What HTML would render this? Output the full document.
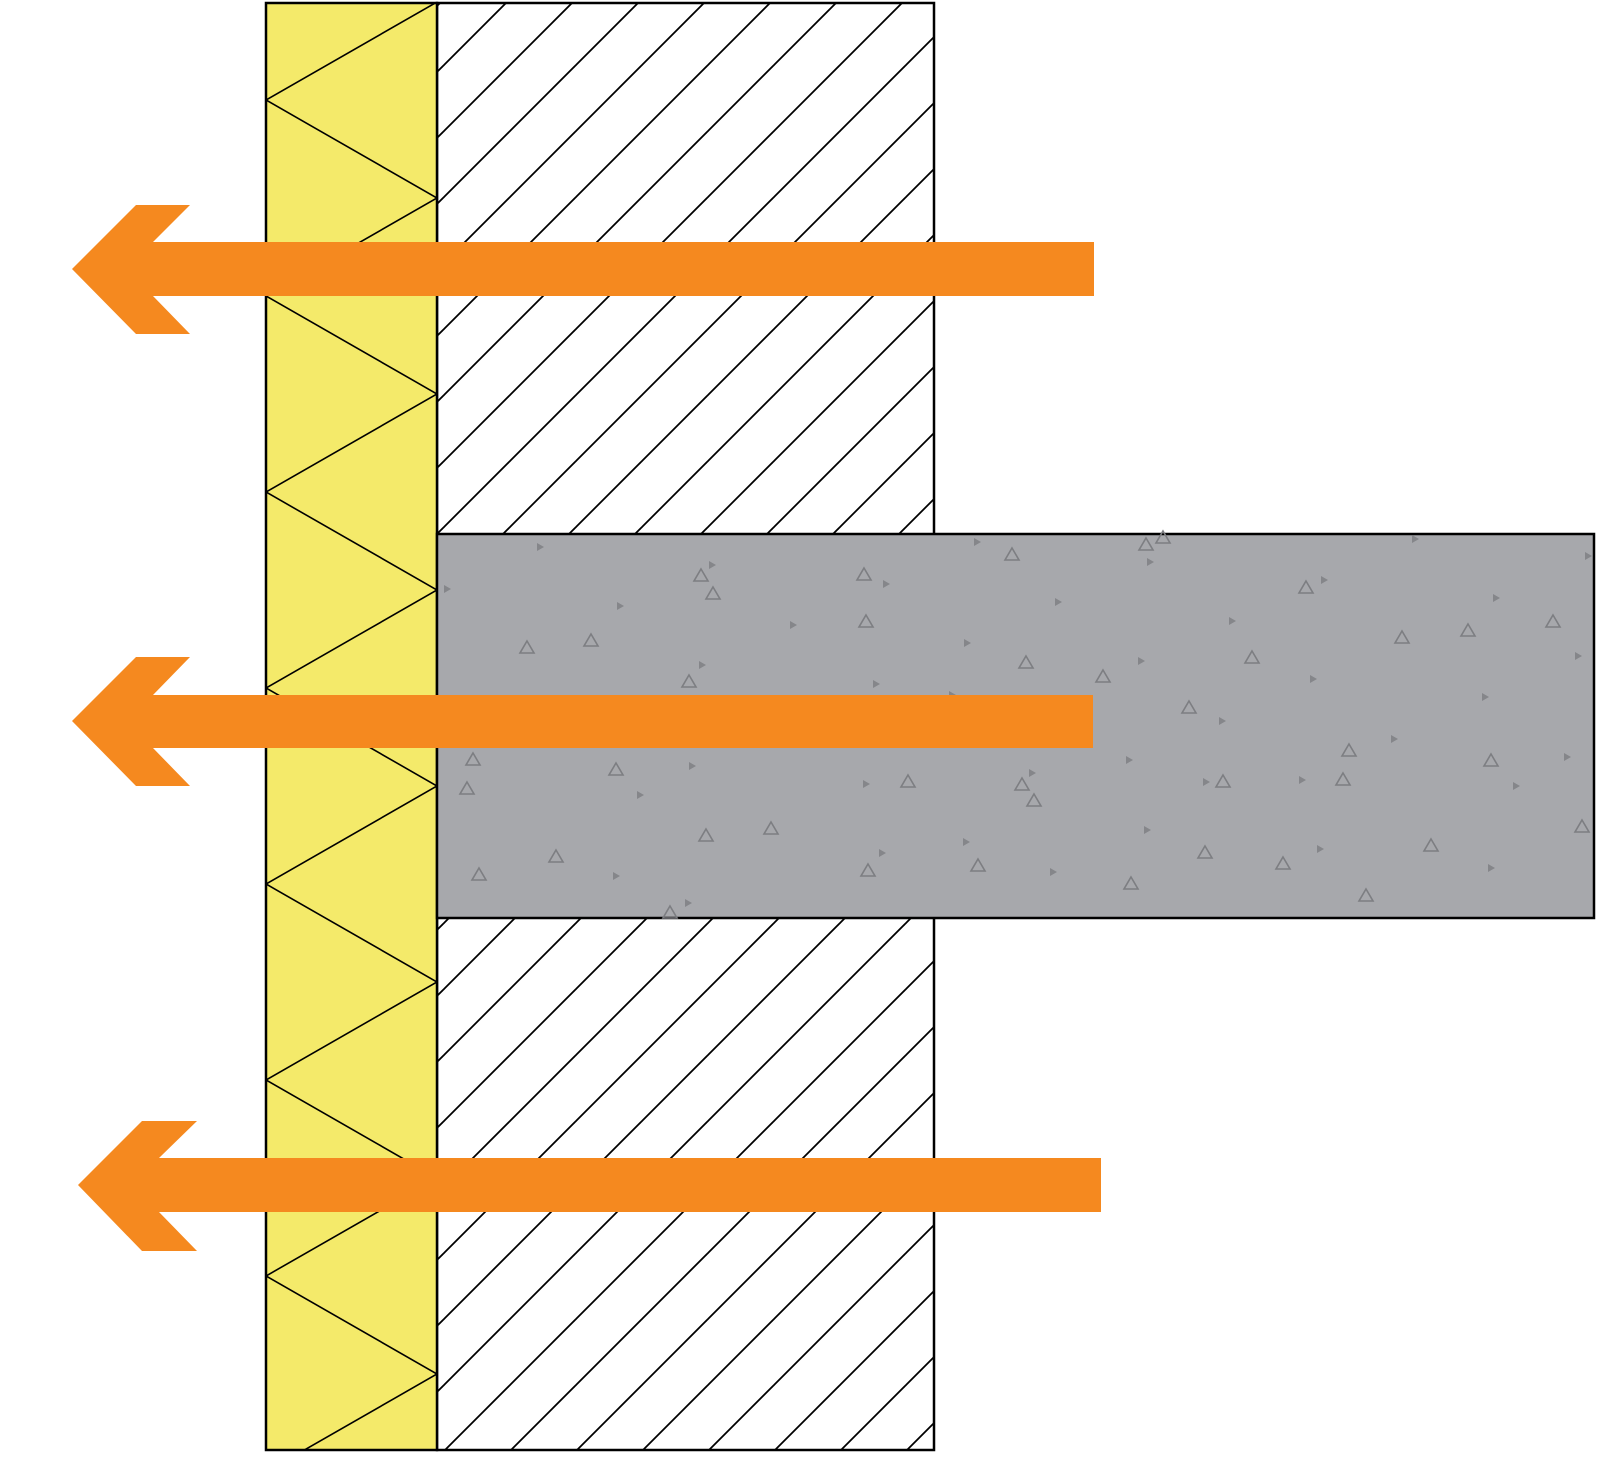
<!DOCTYPE html>
<html><head><meta charset="utf-8"><style>html,body{margin:0;padding:0;background:#fff}svg{display:block}</style></head>
<body>
<svg width="1616" height="1464" viewBox="0 0 1616 1464" xmlns="http://www.w3.org/2000/svg">
<defs>
<pattern id="h" patternUnits="userSpaceOnUse" x="47" y="0" width="66" height="66">
<line x1="0" y1="66" x2="66" y2="0" stroke="#000" stroke-width="1.8"/>
<line x1="-2" y1="2" x2="2" y2="-2" stroke="#000" stroke-width="1.8"/>
<line x1="64" y1="68" x2="68" y2="64" stroke="#000" stroke-width="1.8"/>
</pattern>
<clipPath id="yc"><rect x="266" y="3" width="171" height="1447"/></clipPath>
<g id="t"><path d="M0,-7 L7,5 L-7,5 Z" fill="none" stroke="#7d7e82" stroke-width="1.6"/></g>
<g id="s"><path d="M-3,-4 L4,0 L-3,4 Z" fill="#85868a"/></g>
</defs>
<!-- hatched block -->
<rect x="437" y="3" width="497" height="1447" fill="url(#h)" stroke="#000" stroke-width="2.5"/>
<!-- yellow insulation -->
<rect x="266" y="3" width="171" height="1447" fill="#f4ea6a"/>
<g clip-path="url(#yc)" stroke="#000" stroke-width="1.6" fill="none">
<polyline points="437,2 266,100 437,198 266,296 437,394 266,492 437,590 266,688 437,786 266,884 437,982 266,1080 437,1178 266,1276 437,1374 266,1472"/>
</g>
<rect x="266" y="3" width="171" height="1447" fill="none" stroke="#000" stroke-width="2.5"/>
<!-- concrete -->
<rect x="437" y="534" width="1157" height="384" fill="#a7a8ac" stroke="#000" stroke-width="2.5"/>
<g>
<use href="#s" x="540" y="547"/><use href="#t" x="701" y="576"/><use href="#s" x="712" y="565"/><use href="#t" x="713" y="594"/>
<use href="#s" x="447" y="589"/><use href="#t" x="591" y="641"/><use href="#s" x="620" y="606"/><use href="#t" x="527" y="648"/>
<use href="#t" x="864" y="575"/><use href="#s" x="886" y="584"/><use href="#t" x="866" y="622"/><use href="#s" x="793" y="625"/>
<use href="#s" x="977" y="542"/><use href="#t" x="1012" y="555"/><use href="#t" x="1146" y="545"/><use href="#t" x="1163" y="538"/>
<use href="#s" x="1150" y="562"/><use href="#s" x="1058" y="602"/><use href="#s" x="967" y="643"/><use href="#t" x="1026" y="663"/>
<use href="#t" x="1306" y="588"/><use href="#s" x="1324" y="580"/><use href="#s" x="1232" y="621"/><use href="#t" x="1252" y="658"/>
<use href="#s" x="1415" y="539"/><use href="#s" x="1588" y="556"/><use href="#s" x="1496" y="598"/><use href="#t" x="1468" y="631"/>
<use href="#t" x="1402" y="638"/><use href="#t" x="1553" y="622"/><use href="#s" x="1578" y="656"/><use href="#s" x="1313" y="679"/>
<use href="#s" x="702" y="665"/><use href="#t" x="689" y="682"/><use href="#s" x="876" y="684"/><use href="#s" x="952" y="695"/>
<use href="#t" x="1103" y="677"/><use href="#s" x="1141" y="661"/><use href="#t" x="1189" y="708"/><use href="#s" x="1222" y="721"/>
<use href="#s" x="1485" y="697"/><use href="#s" x="1394" y="739"/><use href="#t" x="1349" y="751"/><use href="#t" x="1491" y="761"/>
<use href="#s" x="1567" y="757"/><use href="#s" x="1516" y="786"/><use href="#t" x="1343" y="780"/><use href="#s" x="1302" y="780"/>
<use href="#t" x="1223" y="782"/><use href="#s" x="1206" y="782"/><use href="#s" x="1129" y="760"/><use href="#t" x="1022" y="785"/>
<use href="#s" x="1032" y="773"/><use href="#t" x="1034" y="801"/><use href="#t" x="908" y="782"/><use href="#s" x="866" y="784"/>
<use href="#t" x="473" y="760"/><use href="#t" x="467" y="789"/><use href="#t" x="616" y="770"/><use href="#s" x="640" y="795"/>
<use href="#s" x="692" y="766"/><use href="#t" x="771" y="829"/><use href="#t" x="706" y="836"/><use href="#t" x="556" y="857"/>
<use href="#t" x="479" y="875"/><use href="#s" x="616" y="876"/><use href="#t" x="670" y="913"/><use href="#s" x="688" y="903"/>
<use href="#s" x="882" y="853"/><use href="#t" x="868" y="871"/><use href="#s" x="966" y="842"/><use href="#t" x="978" y="866"/>
<use href="#s" x="1053" y="872"/><use href="#s" x="1147" y="830"/><use href="#t" x="1131" y="884"/><use href="#t" x="1205" y="853"/>
<use href="#s" x="1320" y="849"/><use href="#t" x="1283" y="864"/><use href="#t" x="1431" y="846"/><use href="#s" x="1491" y="868"/>
<use href="#t" x="1366" y="896"/><use href="#t" x="1582" y="827"/>
</g>
<!-- arrows -->
<g fill="#f5891f">
<path d="M72,269 L136,205 L190,205 L153,242 L1094,242 L1094,296 L153,296 L190,334 L136,334 Z"/>
<path d="M72,721 L136,657 L190,657 L153,695 L1093,695 L1093,748 L153,748 L190,786 L136,786 Z"/>
<path d="M78,1185 L142,1121 L197,1121 L159,1158 L1101,1158 L1101,1212 L159,1212 L197,1251 L142,1251 Z"/>
</g>
</svg>
</body></html>
